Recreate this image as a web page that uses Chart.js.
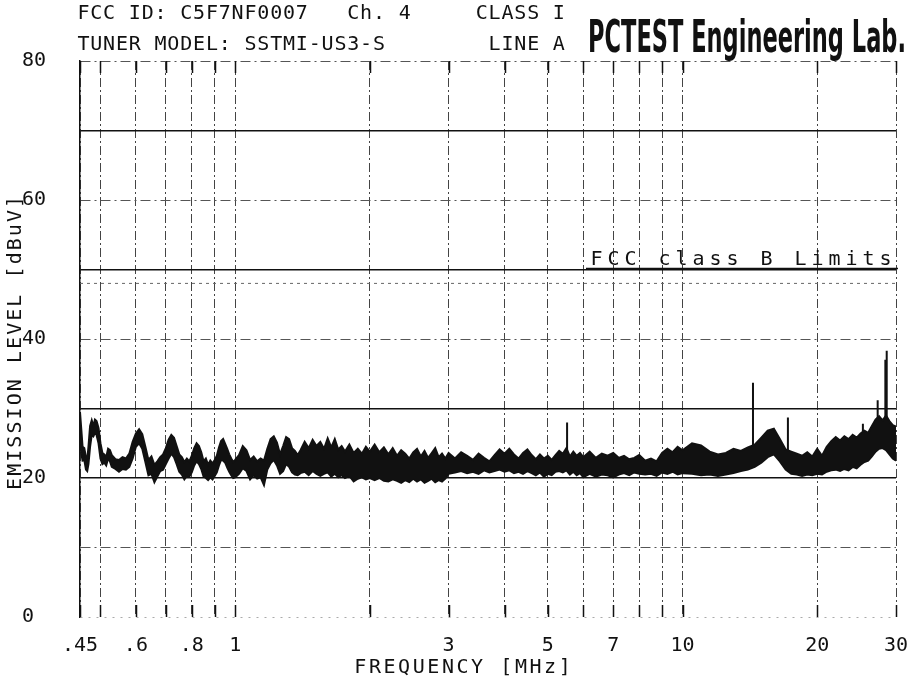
<!DOCTYPE html>
<html>
<head>
<meta charset="utf-8">
<script src="https://cdn.jsdelivr.net/npm/chart.js@4.4.1/dist/chart.umd.min.js"></script>
<style>
  html, body { margin: 0; padding: 0; background: #fff; }
  #wrap { width: 911px; height: 684px; position: relative; }
</style>
</head>
<body>
<div id="wrap"><canvas id="emi" width="911" height="684"></canvas></div>
<script>
const freqMHz = [
  0.450, 0.453, 0.456, 0.460, 0.464, 0.467, 0.470, 0.474, 0.478, 0.482,
  0.486, 0.490, 0.495, 0.500, 0.505, 0.510, 0.515, 0.520, 0.525, 0.530,
  0.540, 0.550, 0.560, 0.570, 0.580, 0.590, 0.600, 0.610, 0.620, 0.630,
  0.640, 0.650, 0.660, 0.670, 0.680, 0.690, 0.700, 0.710, 0.720, 0.730,
  0.740, 0.750, 0.760, 0.770, 0.780, 0.790, 0.800, 0.810, 0.820, 0.830,
  0.840, 0.850, 0.860, 0.870, 0.880, 0.890, 0.900, 0.910, 0.920, 0.930,
  0.940, 0.950, 0.960, 0.970, 0.980, 0.990, 1.00, 1.02, 1.04, 1.06,
  1.08, 1.10, 1.12, 1.14, 1.16, 1.18, 1.20, 1.22, 1.24, 1.26,
  1.28, 1.30, 1.32, 1.34, 1.36, 1.38, 1.40, 1.43, 1.46, 1.49,
  1.52, 1.55, 1.58, 1.61, 1.64, 1.67, 1.70, 1.73, 1.76, 1.80,
  1.84, 1.88, 1.92, 1.96, 2.00, 2.05, 2.10, 2.15, 2.20, 2.25,
  2.30, 2.35, 2.40, 2.45, 2.50, 2.55, 2.60, 2.65, 2.70, 2.75,
  2.80, 2.85, 2.90, 2.95, 3.0, 3.1, 3.2, 3.3, 3.4, 3.5,
  3.6, 3.7, 3.8, 3.9, 4.0, 4.1, 4.2, 4.3, 4.4, 4.5,
  4.6, 4.7, 4.8, 4.9, 5.0, 5.1, 5.2, 5.3, 5.4, 5.5,
  5.6, 5.7, 5.8, 5.9, 6.0, 6.2, 6.4, 6.6, 6.8, 7.0,
  7.2, 7.4, 7.6, 7.8, 8.0, 8.25, 8.5, 8.75, 9.0, 9.25,
  9.5, 9.75, 10, 10.5, 11, 11.5, 12, 12.5, 13, 13.5,
  14, 14.5, 15, 15.5, 16, 16.5, 17, 17.5, 18, 18.5,
  19, 19.5, 20, 20.5, 21, 21.5, 22, 22.5, 23, 23.5,
  24, 24.5, 25, 25.5, 26, 26.5, 27, 27.5, 28, 28.5,
  29, 29.5, 30
];

// Borde superior de la traza (dBuV)
const upperDb = [
  29.5, 27.0, 24.5, 24.3, 23.0, 22.5, 24.5, 27.5, 28.3, 27.5,
  28.4, 28.2, 27.2, 25.0, 23.6, 23.4, 23.0, 24.2, 24.0, 23.3,
  22.7, 22.6, 23.0, 22.8, 23.5, 25.2, 26.4, 27.0, 26.3, 24.5,
  22.6, 23.1, 21.9, 22.4, 23.0, 23.4, 24.3, 25.5, 26.2, 25.8,
  24.6, 23.4, 23.0, 22.3, 22.8, 22.4, 23.2, 24.3, 25.0, 24.6,
  23.7, 22.4, 22.8, 21.9, 22.5, 22.1, 22.6, 23.2, 24.4, 25.3,
  25.6, 24.9, 24.2, 23.4, 22.8, 22.3, 22.6, 23.3, 24.6, 24.0,
  22.6, 23.1, 22.4, 22.8, 22.5, 24.2, 25.6, 26.0, 25.1, 23.4,
  24.6, 25.9, 25.6, 24.3, 23.9, 23.3, 24.0, 25.2, 24.3, 25.5,
  24.6, 25.2, 24.2, 25.7, 24.4, 25.6, 24.1, 24.6, 23.8, 24.8,
  23.6, 24.2, 23.5, 24.5, 23.8, 24.8, 23.7, 24.4, 23.4, 24.3,
  23.2, 24.0, 23.5, 22.8, 23.7, 24.2, 23.1, 23.9, 22.9, 23.6,
  24.3, 23.0, 23.5, 22.8, 23.6, 22.8, 23.7, 23.2, 22.6, 23.5,
  22.9, 22.4, 23.3, 24.1, 23.5, 24.2, 23.4, 22.8, 23.6, 24.1,
  23.3, 22.7, 23.4, 22.8, 23.2, 22.6, 23.3, 23.9, 23.5, 24.3,
  23.1, 23.8, 23.2, 23.6, 23.0, 23.8, 22.9, 23.5, 23.2, 23.6,
  22.9, 23.2, 22.7, 22.9, 23.3, 22.5, 22.8, 22.4, 23.6, 24.2,
  23.7, 24.5, 24.0, 25.0, 24.7, 23.8, 23.4, 23.6, 24.2, 23.9,
  24.4, 24.8, 25.8, 26.8, 27.1, 25.6, 24.1, 23.8, 23.5, 23.2,
  23.7, 23.1, 24.2, 23.2, 24.5, 25.3, 25.9, 25.4, 26.0, 25.6,
  26.2, 25.8, 26.4, 26.8, 26.5, 27.5, 28.4, 28.9, 28.3, 29.0,
  28.2, 27.6, 27.4
];

// Borde inferior de la traza (dBuV)
const lowerDb = [
  25.5, 23.5, 22.5, 22.6, 21.2, 21.0, 22.0, 24.5, 26.2, 26.0,
  26.5, 26.2, 25.0, 22.8, 22.0, 22.2, 21.8, 22.8, 22.4, 21.6,
  21.3, 20.9, 21.3, 21.2, 21.6, 22.8, 24.5, 25.0, 24.2, 22.3,
  20.4, 20.6, 19.4, 20.2, 21.0, 21.2, 22.0, 22.8, 23.5, 23.0,
  22.0, 20.9, 20.5, 19.8, 20.3, 20.2, 20.8, 21.8, 22.4, 22.0,
  21.3, 20.2, 20.0, 19.7, 20.1, 19.8, 20.3, 20.8, 21.8, 22.6,
  22.5, 22.2, 21.5, 20.9, 20.4, 20.0, 20.1, 20.6, 21.4, 21.0,
  19.8, 20.4, 19.9, 20.1, 19.0, 21.2, 22.1, 22.6, 21.8, 20.6,
  21.0, 22.0, 21.6, 20.8, 20.5, 20.4, 20.7, 20.9, 20.4, 21.0,
  20.6, 20.3, 20.6, 20.8, 20.2, 20.6, 20.1, 20.4, 20.0, 20.3,
  19.5, 19.9, 20.1, 19.8, 20.0, 19.7, 20.0, 19.6, 19.5, 19.8,
  19.6, 19.3, 19.7, 19.4, 19.9, 19.5, 19.8, 19.3, 19.6, 19.9,
  19.4, 19.7, 19.5, 19.9, 20.6, 20.8, 21.0, 20.7, 20.9, 20.6,
  21.1, 20.8, 21.0, 21.2, 20.9, 21.1, 20.7, 20.9, 20.6, 21.0,
  20.7, 20.4, 20.8, 20.2, 20.6, 20.4, 20.9, 21.0, 20.8, 21.1,
  20.5, 20.9, 20.4, 20.7, 20.1, 20.6, 20.2, 20.5, 20.4, 20.1,
  20.5, 20.7, 20.4, 20.8, 20.6, 20.5, 20.6, 20.3, 20.8, 20.6,
  20.9, 20.5, 20.7, 20.6, 20.4, 20.5, 20.3, 20.5, 20.7, 21.0,
  21.2, 21.6, 22.2, 23.0, 23.4, 22.4, 21.2, 20.6, 20.5, 20.3,
  20.5, 20.4, 20.6, 20.5, 20.9, 21.1, 21.2, 21.0, 21.3, 21.1,
  21.6, 21.4, 21.9, 22.3, 22.5, 23.1, 23.8, 24.2, 24.3, 24.0,
  23.4, 22.8, 22.5
];

// Picos aislados (MHz, dBuV): base y cima de cada pico
const spikeFreq = [1.16, 5.52, 14.37, 17.2, 25.3, 27.3, 28.4, 28.6];
const spikeBase = [21.0, 22.5, 23.0, 22.5, 24.5, 26.0, 26.0, 26.0];
const spikeTop  = [19.0, 28.0, 33.7, 28.7, 27.8, 31.2, 37.0, 38.3];

// Limite FCC clase B
const limitFreq = [0.45, 30];
const limitDb = [48, 48];

// Ejes
const xGridMHz = [0.45, 0.5, 0.6, 0.7, 0.8, 0.9, 1, 2, 3, 4, 5, 6, 7, 8, 9, 10, 20, 30];
const xLabelMHz = [0.45, 0.6, 0.8, 1, 3, 5, 7, 10, 20, 30];
const xLabelText = ['.45', '.6', '.8', '1', '3', '5', '7', '10', '20', '30'];
const yGridDb = [0, 10, 20, 30, 40, 50, 60, 70, 80];
const yLabelDb = [0, 20, 40, 60, 80];
const ySolidDb = [20, 30, 50, 70];

const MONO = '"DejaVu Sans Mono", "Liberation Mono", monospace';
const INK = '#111';

const spikeData = [];
spikeFreq.forEach((f, i) => {
  spikeData.push({ x: f, y: spikeBase[i] });
  spikeData.push({ x: f, y: spikeTop[i] });
  spikeData.push({ x: f, y: null });
});

// Texto con paso fijo, como el trazador
const drawMono = (ctx, text, x, y, pitch) => {
  for (let i = 0; i < text.length; i++) {
    ctx.fillText(text[i], x + i * pitch + pitch / 2, y);
  }
};

const textosPlugin = {
  id: 'textos',
  afterDraw(chart) {
    const ctx = chart.ctx;
    const xs = chart.scales.x;
    const area = chart.chartArea;
    ctx.save();
    ctx.fillStyle = INK;
    ctx.strokeStyle = INK;

    // marcas cortas arriba y abajo
    ctx.lineWidth = 1.5;
    xGridMHz.forEach(v => {
      const px = Math.round(xs.getPixelForValue(v)) + 0.5;
      ctx.beginPath();
      ctx.moveTo(px, area.top);
      ctx.lineTo(px, area.top + 12);
      ctx.moveTo(px, area.bottom);
      ctx.lineTo(px, area.bottom - 12);
      ctx.stroke();
    });

    ctx.textAlign = 'center';
    ctx.textBaseline = 'middle';
    ctx.font = '20px ' + MONO;
    drawMono(ctx, 'FCC ID: C5F7NF0007   Ch. 4     CLASS I', 77, 14, 12.85);
    drawMono(ctx, 'TUNER MODEL: SSTMI-US3-S        LINE A', 77, 45, 12.85);

    // PCTEST
    ctx.font = 'bold 44px "Liberation Sans Narrow", "DejaVu Sans", sans-serif';
    const label = 'PCTEST Engineering Lab.';
    const w = ctx.measureText(label).width;
    ctx.save();
    ctx.translate(588, 52);
    ctx.scale(318 / w, 1);
    ctx.textAlign = 'left';
    ctx.textBaseline = 'alphabetic';
    ctx.fillText(label, 0, 0);
    ctx.restore();

    // etiqueta del limite
    ctx.font = '20px ' + MONO;
    ctx.textBaseline = 'alphabetic';
    drawMono(ctx, 'FCC class B Limits', 588, 265, 17);
    ctx.lineWidth = 1.5;
    ctx.beginPath();
    ctx.moveTo(586, 268.5);
    ctx.lineTo(area.right + 2, 268.5);
    ctx.stroke();

    // titulos de ejes
    ctx.textBaseline = 'middle';
    drawMono(ctx, 'FREQUENCY [MHz]', 353, 668, 14.6);
    ctx.save();
    ctx.translate(16, 343);
    ctx.rotate(-Math.PI / 2);
    drawMono(ctx, 'EMISSION LEVEL [dBuV]', -148, 0, 14.1);
    ctx.restore();
    ctx.restore();
  }
};

const ctx = document.getElementById('emi').getContext('2d');
new Chart(ctx, {
  type: 'line',
  data: {
    datasets: [
      {
        label: 'max',
        data: freqMHz.map((f, i) => ({ x: f, y: upperDb[i] })),
        borderColor: INK,
        backgroundColor: INK,
        borderWidth: 2,
        pointRadius: 0,
        tension: 0,
        fill: '+1'
      },
      {
        label: 'min',
        data: freqMHz.map((f, i) => ({ x: f, y: lowerDb[i] })),
        borderColor: INK,
        borderWidth: 2,
        pointRadius: 0,
        tension: 0,
        fill: false
      },
      {
        label: 'picos',
        data: spikeData,
        borderColor: INK,
        borderWidth: 2,
        pointRadius: 0,
        spanGaps: false,
        fill: false
      },
      {
        label: 'limite',
        data: limitFreq.map((f, i) => ({ x: f, y: limitDb[i] })),
        borderColor: '#666',
        borderWidth: 1,
        borderDash: [3, 4],
        pointRadius: 0,
        fill: false
      }
    ]
  },
  options: {
    responsive: false,
    animation: false,
    devicePixelRatio: 1,
    layout: { padding: { left: 22, right: 15, top: 61, bottom: 0 } },
    plugins: { legend: { display: false }, tooltip: { enabled: false } },
    scales: {
      x: {
        type: 'logarithmic',
        min: 0.45,
        max: 30,
        afterBuildTicks: s => { s.ticks = xGridMHz.map(v => ({ value: v })); },
        afterFit: s => { s.height = 67; s.paddingLeft = 0; s.paddingRight = 0; },
        ticks: {
          autoSkip: false,
          maxRotation: 0,
          padding: 17,
          color: INK,
          font: { family: MONO, size: 20 },
          callback: v => {
            const i = xLabelMHz.findIndex(l => Math.abs(l - v) < 1e-6);
            return i >= 0 ? xLabelText[i] : '';
          }
        },
        grid: { color: '#444', lineWidth: 1, drawTicks: false },
        border: { display: false, dash: [9, 3, 2, 3] }
      },
      y: {
        min: 0,
        max: 80,
        afterBuildTicks: s => { s.ticks = yGridDb.map(v => ({ value: v })); },
        afterFit: s => { s.width = 58; s.paddingTop = 0; s.paddingBottom = 0; },
        ticks: {
          crossAlign: 'far',
          color: INK,
          font: { family: MONO, size: 20 },
          callback: v => (yLabelDb.includes(v) ? String(v) : '')
        },
        grid: {
          drawTicks: false,
          color: c => (c.tick && ySolidDb.includes(c.tick.value) ? '#111' : (c.tick && c.tick.value === 0 ? '#aaa' : '#555')),
          lineWidth: c => (c.tick && ySolidDb.includes(c.tick.value) ? 1.5 : 1)
        },
        border: {
          display: true,
          color: INK,
          width: 1.5,
          dash: c => (c.tick && ySolidDb.includes(c.tick.value) ? [] : (c.tick && c.tick.value === 0 ? [2, 6] : [10, 4, 2, 4]))
        }
      }
    }
  },
  plugins: [textosPlugin]
});
</script>
</body>
</html>
